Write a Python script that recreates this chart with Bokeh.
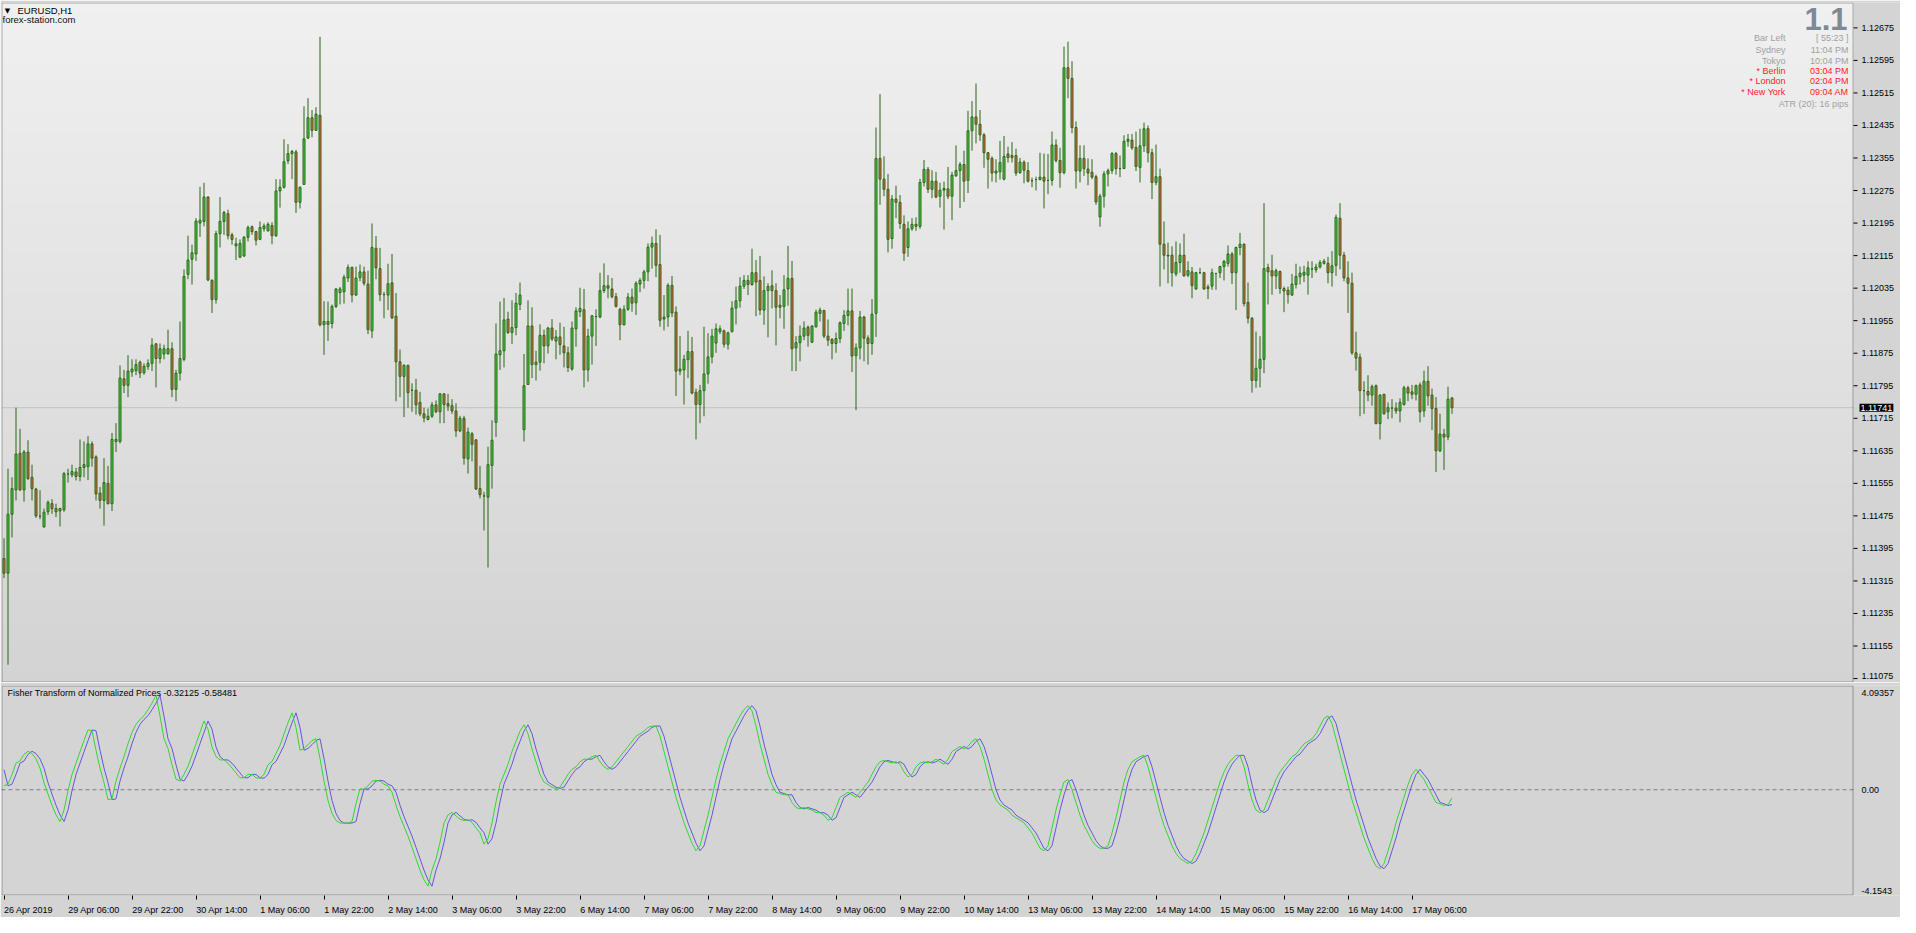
from bokeh.plotting import figure
from bokeh.layouts import column
from bokeh.models import Range1d, FixedTicker, Label, BoxAnnotation, ColumnDataSource
from bokeh.core.properties import value
from bokeh.embed import file_html
from bokeh.resources import INLINE

# ---------------- data (EURUSD H1, bar 0 = 26 Apr 2019 14:00) ----------------
open_ = [
1.11370,1.11334,1.11479,1.11539,1.11629,1.11539,1.11632,1.11570,1.11541,1.11474,
1.11448,1.11485,1.11505,1.11493,1.11487,1.11490,1.11578,1.11576,1.11583,1.11572,
1.11594,1.11596,1.11652,1.11620,1.11531,1.11513,1.11555,1.11505,1.11658,1.11658,
1.11812,1.11796,1.11829,1.11832,1.11853,1.11827,1.11842,1.11850,1.11898,1.11862,
1.11873,1.11874,1.11886,1.11786,1.11826,1.11860,1.12069,1.12106,1.12119,1.12195,
1.12199,1.12259,1.12054,1.12007,1.12169,1.12199,1.12218,1.12166,1.12139,1.12111,
1.12114,1.12160,1.12186,1.12174,1.12155,1.12181,1.12176,1.12189,1.12164,1.12274,
1.12283,1.12348,1.12366,1.12370,1.12246,1.12290,1.12404,1.12454,1.12423,1.12460,
1.11945,1.11946,1.11948,1.11990,1.12024,1.12026,1.12060,1.12086,1.12018,1.12061,
1.12075,1.12045,1.11930,1.12133,1.12083,1.12019,1.12018,1.12048,1.11966,1.11854,
1.11818,1.11845,1.11784,1.11784,1.11754,1.11726,1.11712,1.11720,1.11748,1.11731,
1.11775,1.11751,1.11746,1.11733,1.11684,1.11715,1.11615,1.11677,1.11662,1.11542,
1.11524,1.11521,1.11599,1.11705,1.11871,1.11881,1.11959,1.11926,1.11938,1.11995,
1.11687,1.11798,1.11942,1.11847,1.11853,1.11919,1.11893,1.11937,1.11905,1.11915,
1.11893,1.11876,1.11836,1.11935,1.11977,1.11982,1.11834,1.11917,1.11965,1.11964,
1.12029,1.12041,1.12033,1.12014,1.11983,1.11945,1.11983,1.12013,1.11999,1.12045,
1.12054,1.12075,1.12136,1.12145,1.12093,1.11959,1.11964,1.12042,1.11976,1.11831,
1.11834,1.11859,1.11879,1.11779,1.11749,1.11783,1.11824,1.11866,1.11900,1.11928,
1.11930,1.11897,1.11928,1.11986,1.12004,1.12040,1.12054,1.12044,1.12073,1.12054,
1.11981,1.12029,1.12041,1.12029,1.11993,1.11990,1.12033,1.12059,1.11888,1.11901,
1.11917,1.11939,1.11902,1.11940,1.11973,1.11980,1.11917,1.11909,1.11899,1.11911,
1.11948,1.11968,1.11979,1.11869,1.11888,1.11964,1.11912,1.11899,1.11973,1.12354,
1.12303,1.12278,1.12157,1.12254,1.12246,1.12192,1.12135,1.12181,1.12192,1.12187,
1.12295,1.12327,1.12278,1.12298,1.12261,1.12276,1.12279,1.12261,1.12311,1.12324,
1.12339,1.12300,1.12422,1.12456,1.12438,1.12412,1.12368,1.12354,1.12318,1.12321,
1.12303,1.12365,1.12361,1.12361,1.12319,1.12345,1.12324,1.12299,1.12302,1.12302,
1.12308,1.12300,1.12300,1.12387,1.12349,1.12319,1.12577,1.12551,1.12430,1.12323,
1.12354,1.12328,1.12320,1.12309,1.12210,1.12261,1.12316,1.12324,1.12366,1.12329,
1.12329,1.12396,1.12399,1.12381,1.12332,1.12385,1.12427,1.12368,1.12295,1.12309,
1.12143,1.12116,1.12116,1.12070,1.12098,1.12116,1.12067,1.12075,1.12033,1.12073,
1.12073,1.12034,1.12040,1.12071,1.12073,1.12088,1.12096,1.12119,1.12073,1.12135,
1.12143,1.12000,1.11961,1.11808,1.11838,1.11860,1.12086,1.12078,1.12065,1.12076,
1.12034,1.12030,1.12018,1.12044,1.12063,1.12067,1.12067,1.12082,1.12080,1.12087,
1.12096,1.12096,1.12073,1.12091,1.12207,1.12116,1.12060,1.12047,1.11876,1.11865,
1.11783,1.11781,1.11772,1.11795,1.11702,1.11774,1.11731,1.11740,1.11740,1.11733,
1.11749,1.11790,1.11780,1.11774,1.11797,1.11733,1.11806,1.11772,1.11739,1.11635,
1.11676,1.11669,1.11765]

high = [
1.11420,1.11591,1.11570,1.11741,1.11689,1.11637,1.11661,1.11601,1.11544,1.11538,
1.11493,1.11513,1.11516,1.11505,1.11495,1.11583,1.11591,1.11601,1.11593,1.11663,
1.11658,1.11671,1.11658,1.11624,1.11546,1.11617,1.11598,1.11679,1.11703,1.11845,
1.11834,1.11870,1.11860,1.11860,1.11857,1.11850,1.11860,1.11912,1.11900,1.11899,
1.11896,1.11933,1.11902,1.11834,1.11953,1.12081,1.12164,1.12142,1.12207,1.12284,
1.12294,1.12261,1.12057,1.12176,1.12259,1.12225,1.12228,1.12171,1.12159,1.12155,
1.12163,1.12189,1.12189,1.12176,1.12199,1.12194,1.12197,1.12197,1.12303,1.12303,
1.12401,1.12389,1.12375,1.12375,1.12285,1.12482,1.12502,1.12473,1.12480,1.12653,
1.12003,1.12002,1.11995,1.12035,1.12038,1.12068,1.12093,1.12088,1.12088,1.12093,
1.12088,1.12078,1.12194,1.12163,1.12134,1.12026,1.12095,1.12119,1.12023,1.11884,
1.11848,1.11847,1.11801,1.11812,1.11780,1.11741,1.11739,1.11755,1.11759,1.11777,
1.11777,1.11775,1.11762,1.11752,1.11721,1.11721,1.11692,1.11681,1.11663,1.11598,
1.11534,1.11645,1.11710,1.11948,1.12002,1.12011,1.11977,1.12005,1.12023,1.12049,
1.11873,1.12005,1.11988,1.11881,1.11946,1.11933,1.11940,1.11959,1.11932,1.11950,
1.11940,1.11891,1.11953,1.11988,1.12036,1.12033,1.11935,1.11969,1.11983,1.12073,
1.12096,1.12067,1.12060,1.12023,1.11987,1.11993,1.12023,1.12034,1.12052,1.12060,
1.12080,1.12145,1.12162,1.12180,1.12166,1.12018,1.12047,1.12065,1.11990,1.11917,
1.11871,1.11930,1.11915,1.11788,1.11797,1.11940,1.11924,1.11935,1.11948,1.11943,
1.11933,1.11928,1.12003,1.12039,1.12062,1.12067,1.12067,1.12132,1.12104,1.12114,
1.12064,1.12047,1.12079,1.12047,1.12018,1.12067,1.12139,1.12102,1.11917,1.11943,
1.11953,1.11943,1.11943,1.11982,1.11987,1.11982,1.11958,1.11912,1.11926,1.11953,
1.11981,1.12034,1.12034,1.11899,1.11979,1.11967,1.11919,1.12008,1.12430,1.12512,
1.12359,1.12316,1.12264,1.12287,1.12264,1.12214,1.12199,1.12207,1.12209,1.12304,
1.12350,1.12333,1.12325,1.12321,1.12294,1.12297,1.12333,1.12321,1.12386,1.12345,
1.12373,1.12471,1.12495,1.12538,1.12473,1.12416,1.12370,1.12359,1.12352,1.12397,
1.12409,1.12383,1.12394,1.12378,1.12355,1.12349,1.12345,1.12307,1.12309,1.12368,
1.12366,1.12365,1.12420,1.12401,1.12380,1.12629,1.12641,1.12593,1.12445,1.12386,
1.12386,1.12354,1.12352,1.12314,1.12267,1.12323,1.12329,1.12370,1.12370,1.12361,
1.12411,1.12414,1.12414,1.12420,1.12427,1.12442,1.12435,1.12378,1.12388,1.12329,
1.12199,1.12147,1.12138,1.12150,1.12145,1.12169,1.12101,1.12087,1.12075,1.12085,
1.12075,1.12044,1.12083,1.12073,1.12090,1.12104,1.12140,1.12124,1.12137,1.12171,
1.12145,1.12049,1.11964,1.11928,1.11917,1.12244,1.12095,1.12117,1.12083,1.12078,
1.12039,1.12039,1.12070,1.12095,1.12088,1.12090,1.12101,1.12101,1.12095,1.12104,
1.12107,1.12112,1.12126,1.12216,1.12244,1.12124,1.12101,1.12073,1.11928,1.11874,
1.11806,1.11821,1.11798,1.11798,1.11774,1.11775,1.11754,1.11762,1.11754,1.11764,
1.11795,1.11795,1.11797,1.11798,1.11803,1.11832,1.11843,1.11788,1.11767,1.11726,
1.11689,1.11793,1.11767]

low = [
1.11322,1.11109,1.11422,1.11513,1.11536,1.11510,1.11563,1.11513,1.11470,1.11467,
1.11446,1.11477,1.11480,1.11472,1.11449,1.11485,1.11557,1.11570,1.11562,1.11560,
1.11570,1.11563,1.11596,1.11513,1.11493,1.11451,1.11503,1.11487,1.11632,1.11653,
1.11777,1.11767,1.11817,1.11821,1.11814,1.11822,1.11834,1.11831,1.11791,1.11850,
1.11860,1.11871,1.11767,1.11757,1.11808,1.11855,1.12057,1.12044,1.12102,1.12161,
1.12187,1.12052,1.11974,1.11997,1.12135,1.12166,1.12155,1.12142,1.12104,1.12109,
1.12112,1.12150,1.12166,1.12140,1.12153,1.12174,1.12174,1.12143,1.12161,1.12233,
1.12280,1.12340,1.12303,1.12220,1.12231,1.12290,1.12402,1.12406,1.12423,1.11941,
1.11871,1.11905,1.11936,1.11986,1.11995,1.11997,1.12050,1.12000,1.12016,1.12052,
1.12041,1.11922,1.11912,1.12057,1.12003,1.11961,1.11981,1.11959,1.11757,1.11767,
1.11718,1.11741,1.11731,1.11724,1.11720,1.11705,1.11710,1.11716,1.11728,1.11703,
1.11703,1.11733,1.11726,1.11669,1.11681,1.11601,1.11579,1.11609,1.11539,1.11518,
1.11439,1.11348,1.11542,1.11669,1.11834,1.11840,1.11922,1.11898,1.11919,1.11981,
1.11658,1.11798,1.11814,1.11808,1.11832,1.11850,1.11874,1.11905,1.11860,1.11871,
1.11840,1.11829,1.11832,1.11891,1.11964,1.11791,1.11805,1.11847,1.11893,1.11961,
1.12023,1.12010,1.12010,1.11987,1.11907,1.11943,1.11979,1.11977,1.11969,1.12025,
1.12034,1.12052,1.12083,1.12062,1.11940,1.11931,1.11940,1.11964,1.11770,1.11821,
1.11749,1.11814,1.11774,1.11663,1.11703,1.11720,1.11800,1.11850,1.11876,1.11922,
1.11889,1.11884,1.11926,1.11946,1.11987,1.12033,1.12018,1.12041,1.11966,1.11969,
1.11945,1.11914,1.11985,1.11894,1.11961,1.11935,1.11992,1.11831,1.11831,1.11855,
1.11907,1.11891,1.11900,1.11938,1.11953,1.11912,1.11893,1.11860,1.11876,1.11900,
1.11930,1.11943,1.11829,1.11735,1.11860,1.11855,1.11847,1.11871,1.11915,1.12240,
1.12261,1.12123,1.12132,1.12207,1.12181,1.12102,1.12112,1.12176,1.12176,1.12181,
1.12285,1.12269,1.12256,1.12256,1.12233,1.12179,1.12254,1.12202,1.12309,1.12232,
1.12247,1.12269,1.12373,1.12391,1.12397,1.12331,1.12280,1.12297,1.12295,1.12302,
1.12300,1.12344,1.12344,1.12311,1.12316,1.12293,1.12295,1.12283,1.12275,1.12300,
1.12231,1.12266,1.12287,1.12344,1.12282,1.12315,1.12502,1.12416,1.12280,1.12295,
1.12311,1.12288,1.12303,1.12240,1.12186,1.12233,1.12285,1.12316,1.12314,1.12308,
1.12329,1.12383,1.12375,1.12323,1.12295,1.12370,1.12344,1.12254,1.12288,1.12039,
1.12081,1.12047,1.12039,1.12064,1.12073,1.12064,1.12062,1.12010,1.12031,1.12070,
1.12031,1.12008,1.12031,1.12031,1.12060,1.12054,1.12088,1.12045,1.11981,1.12116,
1.11990,1.11948,1.11778,1.11790,1.11791,1.11826,1.11995,1.12019,1.12033,1.12021,
1.11976,1.11997,1.12016,1.12034,1.12044,1.12050,1.12019,1.12060,1.12073,1.12083,
1.12093,1.12047,1.12039,1.12065,1.12081,1.12052,1.11974,1.11871,1.11832,1.11720,
1.11726,1.11757,1.11746,1.11700,1.11663,1.11724,1.11713,1.11715,1.11726,1.11705,
1.11746,1.11757,1.11762,1.11759,1.11705,1.11718,1.11746,1.11686,1.11583,1.11632,
1.11588,1.11661,1.11726]

close = [
1.11334,1.11479,1.11542,1.11627,1.11539,1.11632,1.11567,1.11542,1.11475,1.11474,
1.11484,1.11508,1.11493,1.11485,1.11493,1.11579,1.11578,1.11584,1.11572,1.11594,
1.11601,1.11652,1.11617,1.11529,1.11513,1.11557,1.11505,1.11663,1.11663,1.11814,
1.11796,1.11831,1.11836,1.11847,1.11826,1.11843,1.11850,1.11895,1.11862,1.11886,
1.11886,1.11886,1.11786,1.11826,1.11862,1.12064,1.12104,1.12122,1.12200,1.12202,
1.12259,1.12055,1.12007,1.12169,1.12199,1.12221,1.12164,1.12155,1.12144,1.12145,
1.12160,1.12184,1.12174,1.12153,1.12184,1.12188,1.12192,1.12164,1.12274,1.12283,
1.12346,1.12366,1.12371,1.12246,1.12283,1.12402,1.12454,1.12423,1.12463,1.11945,
1.11953,1.11953,1.11990,1.12033,1.12033,1.12062,1.12086,1.12018,1.12060,1.12075,
1.12047,1.11933,1.12135,1.12085,1.12019,1.12019,1.12046,1.11962,1.11854,1.11818,
1.11845,1.11778,1.11784,1.11748,1.11726,1.11716,1.11720,1.11748,1.11731,1.11775,
1.11749,1.11745,1.11733,1.11684,1.11715,1.11617,1.11681,1.11651,1.11541,1.11527,
1.11524,1.11601,1.11661,1.11873,1.11881,1.11957,1.11926,1.11938,1.11998,1.12018,
1.11795,1.11942,1.11847,1.11853,1.11919,1.11893,1.11937,1.11910,1.11915,1.11896,
1.11876,1.11840,1.11937,1.11979,1.11985,1.11834,1.11917,1.11967,1.11965,1.12029,
1.12041,1.12035,1.12014,1.11990,1.11945,1.11983,1.12013,1.11998,1.12047,1.12054,
1.12075,1.12136,1.12145,1.12091,1.11956,1.11964,1.12042,1.11974,1.11831,1.11836,
1.11860,1.11879,1.11777,1.11749,1.11783,1.11824,1.11866,1.11917,1.11935,1.11935,
1.11897,1.11925,1.11986,1.12004,1.12040,1.12054,1.12044,1.12073,1.12050,1.11981,
1.12029,1.12039,1.12029,1.11988,1.11988,1.12031,1.12059,1.11886,1.11901,1.11917,
1.11937,1.11919,1.11942,1.11976,1.11981,1.11917,1.11907,1.11899,1.11911,1.11950,
1.11968,1.11979,1.11868,1.11888,1.11964,1.11912,1.11899,1.11971,1.12354,1.12303,
1.12278,1.12155,1.12254,1.12246,1.12194,1.12121,1.12181,1.12192,1.12187,1.12295,
1.12327,1.12278,1.12298,1.12259,1.12276,1.12280,1.12261,1.12313,1.12324,1.12339,
1.12298,1.12422,1.12456,1.12438,1.12412,1.12368,1.12352,1.12318,1.12323,1.12344,
1.12359,1.12356,1.12356,1.12318,1.12345,1.12325,1.12298,1.12299,1.12302,1.12308,
1.12298,1.12300,1.12387,1.12349,1.12319,1.12577,1.12551,1.12430,1.12323,1.12354,
1.12329,1.12318,1.12308,1.12247,1.12261,1.12316,1.12324,1.12366,1.12329,1.12329,
1.12396,1.12401,1.12380,1.12334,1.12385,1.12427,1.12368,1.12295,1.12309,1.12143,
1.12116,1.12114,1.12073,1.12098,1.12116,1.12065,1.12078,1.12041,1.12073,1.12073,
1.12033,1.12038,1.12073,1.12071,1.12088,1.12101,1.12119,1.12073,1.12135,1.12143,
1.11997,1.11961,1.11808,1.11838,1.11860,1.12083,1.12075,1.12065,1.12078,1.12034,
1.12028,1.12019,1.12045,1.12064,1.12072,1.12074,1.12085,1.12082,1.12087,1.12098,
1.12101,1.12073,1.12090,1.12209,1.12116,1.12060,1.12047,1.11876,1.11863,1.11783,
1.11783,1.11772,1.11793,1.11702,1.11772,1.11726,1.11741,1.11740,1.11733,1.11754,
1.11790,1.11777,1.11774,1.11795,1.11731,1.11806,1.11770,1.11739,1.11635,1.11676,
1.11669,1.11762,1.11741]

fisher = [
0.15,0.22,0.60,1.04,1.13,1.39,1.51,1.42,1.21,0.85,
0.28,-0.17,-0.61,-0.99,-1.25,-0.80,-0.04,0.60,1.04,1.49,
1.93,2.35,2.32,1.55,0.85,0.28,-0.39,-0.36,0.34,0.85,
1.30,1.81,2.25,2.57,2.76,2.91,3.14,3.40,3.71,2.89,
2.00,1.62,0.98,0.41,0.34,0.60,0.92,1.36,1.81,2.25,
2.70,2.38,1.68,1.30,1.17,1.17,1.04,0.85,0.66,0.47,
0.47,0.60,0.60,0.47,0.45,0.60,0.98,1.11,1.42,1.74,
2.19,2.63,3.02,2.44,1.55,1.62,1.77,1.93,2.00,1.23,
0.34,-0.42,-0.93,-1.21,-1.31,-1.31,-1.31,-1.25,-0.55,0.03,
0.03,0.15,0.34,0.37,0.34,0.22,0.15,-0.10,-0.61,-1.06,
-1.44,-1.82,-2.26,-2.71,-3.16,-3.54,-3.79,-3.16,-2.71,-2.07,
-1.31,-0.99,-0.89,-1.03,-1.16,-1.21,-1.18,-1.28,-1.50,-1.69,
-2.14,-1.92,-1.31,-0.48,0.22,0.60,1.00,1.50,1.90,2.30,
2.55,2.20,1.60,1.10,0.60,0.30,0.20,0.10,0.05,0.10,
0.35,0.60,0.80,0.90,1.10,1.20,1.20,1.30,1.35,1.10,
0.90,0.80,0.90,1.10,1.30,1.50,1.70,1.90,2.10,2.20,
2.30,2.45,2.50,2.50,2.10,1.50,0.90,0.30,-0.30,-0.80,
-1.30,-1.70,-2.10,-2.40,-2.20,-1.60,-1.00,-0.30,0.40,1.00,
1.50,2.00,2.30,2.60,2.90,3.15,3.30,3.10,2.50,1.80,
1.20,0.60,0.20,-0.10,-0.15,-0.20,-0.20,-0.50,-0.70,-0.75,
-0.70,-0.75,-0.80,-0.90,-0.90,-1.00,-1.20,-1.10,-0.70,-0.30,
-0.20,-0.10,-0.20,-0.30,-0.10,0.10,0.30,0.60,0.90,1.10,
1.15,1.10,1.05,1.10,1.00,0.70,0.50,0.60,0.90,1.05,
1.10,1.05,1.10,1.20,1.10,1.00,1.20,1.50,1.60,1.70,
1.60,1.70,1.90,2.00,1.70,1.20,0.60,0.00,-0.40,-0.60,
-0.70,-0.80,-1.00,-1.10,-1.20,-1.30,-1.50,-1.70,-2.00,-2.30,
-2.40,-2.20,-1.50,-0.80,-0.20,0.30,0.40,0.00,-0.50,-1.00,
-1.40,-1.70,-2.00,-2.20,-2.30,-2.30,-2.20,-1.70,-1.10,-0.40,
0.30,0.80,1.10,1.20,1.30,1.35,0.90,0.30,-0.30,-0.90,
-1.40,-1.80,-2.20,-2.50,-2.70,-2.80,-2.90,-2.80,-2.50,-2.10,
-1.70,-1.20,-0.70,-0.20,0.30,0.70,1.00,1.20,1.35,1.35,
0.90,0.20,-0.40,-0.80,-0.90,-0.80,-0.40,0.00,0.40,0.70,
0.90,1.10,1.30,1.40,1.60,1.80,1.90,2.00,2.20,2.50,
2.80,2.90,2.60,2.00,1.40,0.80,0.20,-0.40,-0.90,-1.40,
-1.90,-2.30,-2.70,-3.00,-3.10,-2.90,-2.40,-1.90,-1.30,-0.80,
-0.30,0.20,0.60,0.80,0.60,0.40,0.10,-0.20,-0.50,-0.55,
-0.62,-0.58481,-0.32125]
fisher_before_first = 0.79
# signal line of this indicator = the fisher value of the previous bar
signal = [fisher_before_first] + fisher[:-1]

time_ticks = [0, 16, 32, 48, 64, 80, 96, 112, 128, 144, 160, 176, 192, 208, 224,
              240, 256, 272, 288, 304, 320, 336, 352]
time_labels = ["26 Apr 2019", "29 Apr 06:00", "29 Apr 22:00", "30 Apr 14:00", "1 May 06:00",
               "1 May 22:00", "2 May 14:00", "3 May 06:00", "3 May 22:00", "6 May 14:00",
               "7 May 06:00", "7 May 22:00", "8 May 14:00", "9 May 06:00", "9 May 22:00",
               "10 May 14:00", "13 May 06:00", "13 May 22:00", "14 May 14:00", "15 May 06:00",
               "15 May 22:00", "16 May 14:00", "17 May 06:00"]
price_ticks = [1.12675, 1.12595, 1.12515, 1.12435, 1.12355, 1.12275, 1.12195, 1.12115,
               1.12035, 1.11955, 1.11875, 1.11795, 1.11715, 1.11635, 1.11555, 1.11475,
               1.11395, 1.11315, 1.11235, 1.11155, 1.11075]
ind_tick_labels = ["4.09357", "0.00", "-4.1543"]

info_names = ["Bar Left", "Sydney", "Tokyo", "* Berlin", "* London", "* New York"]
info_values = ["[ 55:23 ]", "11:04 PM", "10:04 PM", "03:04 PM", "02:04 PM", "09:04 AM"]
info_alert = [False, False, False, True, True, True]

# ---------------- layout constants ----------------
FONT = "Liberation Sans"
FS = "9px"
FRAME_W = 1852          # chart area (left of the price scale)
AXIS_W = 47             # price-scale strip on the right
PH = 680
IH = 210
X0 = -0.625
X1 = X0 + FRAME_W / 4.0
XE = X0 + (FRAME_W + AXIS_W) / 4.0
YMIN, YMAX = 1.110653, 1.127374
IMIN, IMAX = -4.1543, 4.09357
OUT = "#2A6516"
BULL = "#42D042"
BEAR = "#E8643E"
GREY_TXT = "#A0A0A0"
RED_TXT = "#FF2020"
PANEL = "#D4D4D4"
PX = 0.25               # one pixel in bar units


def xl(d):
    return X0 + d / 4.0


def xr(d):
    return X1 - d / 4.0


def yp(ref_y):
    return YMAX - (ref_y - 2.0) / 690.0 * (YMAX - YMIN)


def yi(ref_y):
    return IMAX - (ref_y - 695.0) / 216.0 * (IMAX - IMIN)


def base(fig):
    fig.grid.visible = False
    fig.outline_line_color = None
    fig.border_fill_color = PANEL
    fig.background_fill_color = PANEL
    fig.toolbar.logo = None


def frame_box(fig, ymin, ymax, h):
    d = 0.5 * (ymax - ymin) / h
    fig.add_layout(BoxAnnotation(left=X0 + 0.5 * PX, right=X1 - 0.5 * PX, top=ymax - d,
                                 bottom=ymin + d, fill_color=None, line_color="black",
                                 line_width=1, level="overlay"))


x_range = Range1d(X0, XE)

# ---------------- price panel ----------------
p = figure(frame_width=FRAME_W + AXIS_W, frame_height=PH, x_range=x_range,
           y_range=Range1d(YMIN, YMAX), output_backend="svg", toolbar_location=None,
           x_axis_location=None, y_axis_location=None,
           min_border_left=1, min_border_top=2, min_border_bottom=0, min_border_right=0)
base(p)

nb = 68
for i in range(nb):
    top = YMAX - i / nb * (YMAX - YMIN)
    bot = YMAX - (i + 1.05) / nb * (YMAX - YMIN)
    g = int(round(240 - 29 * (i + 0.5) / nb))
    p.add_layout(BoxAnnotation(right=X1, top=top, bottom=max(bot, YMIN),
                               fill_color="#%02x%02x%02x" % (g, g, g), fill_alpha=1.0,
                               line_color=None, level="underlay"))

# current bid line
p.segment(x0=[X0], x1=[X1], y0=[close[-1]], y1=[close[-1]], line_color="#C0C0C0", line_width=1)

idx = list(range(len(close)))
src = ColumnDataSource(dict(
    x=idx, o=open_, h=high, l=low, c=close,
    top=[max(a, b) for a, b in zip(open_, close)],
    bot=[min(a, b) for a, b in zip(open_, close)],
    fill=[BULL if c >= o else BEAR for o, c in zip(open_, close)],
))
p.segment(x0="x", y0="l", x1="x", y1="h", source=src, line_color=OUT, line_width=1)
p.vbar(x="x", top="top", bottom="bot", width=0.5, source=src, fill_color="fill",
       line_color=OUT, line_width=1)

frame_box(p, YMIN, YMAX, PH)

# price scale (right strip)
p.segment(x0=[X1] * len(price_ticks), x1=[X1 + 1.0] * len(price_ticks),
          y0=price_ticks, y1=price_ticks, line_color="black", line_width=1)
p.text(x=[X1 + 2.0] * len(price_ticks), y=price_ticks,
       text=["%.5f" % t for t in price_ticks], text_font=value(FONT), text_font_size=FS,
       text_color="black", text_align="left", text_baseline="middle",
       y_offset=[0] * (len(price_ticks) - 1) + [-3])

# current price marker
p.add_layout(Label(x=X1 + 1.5, y=close[-1], text="%.5f" % close[-1], text_font=FONT,
                   text_font_size=FS, text_color="white", text_align="left",
                   text_baseline="middle", background_fill_color="black", padding=1))

# top-left texts
p.add_layout(Label(x=xl(6), y=yp(10.5), text="\u25bc", text_font="DejaVu Sans",
                   text_font_size="7px", text_color="black", text_align="center",
                   text_baseline="middle"))
p.add_layout(Label(x=xl(16), y=yp(10.5), text="EURUSD,H1", text_font=FONT,
                   text_font_size="9.5px", text_color="black", text_baseline="middle"))
p.add_layout(Label(x=xl(1), y=yp(19.5), text="forex-station.com", text_font=FONT,
                   text_font_size="9.5px", text_color="#101010", text_baseline="middle"))

# top-right info block
p.add_layout(Label(x=xr(6), y=yp(19), text="1.1", text_font=FONT, text_font_size="31px",
                   text_font_style="bold", text_color="#7E8995", text_align="right",
                   text_baseline="middle"))
row_y = [38, 50, 61, 72, 82, 93]
for name, val, alert, ry in zip(info_names, info_values, info_alert, row_y):
    col = RED_TXT if alert else GREY_TXT
    p.add_layout(Label(x=xr(68), y=yp(ry), text=name, text_font=FONT, text_font_size=FS,
                       text_color=col, text_align="right", text_baseline="middle"))
    p.add_layout(Label(x=xr(5), y=yp(ry), text=val, text_font=FONT, text_font_size=FS,
                       text_color=col, text_align="right", text_baseline="middle"))
p.add_layout(Label(x=xr(5), y=yp(105), text="ATR (20): 16 pips", text_font=FONT,
                   text_font_size=FS, text_color=GREY_TXT, text_align="right",
                   text_baseline="middle"))

# ---------------- indicator panel ----------------
q = figure(frame_width=FRAME_W + AXIS_W, frame_height=IH, x_range=x_range,
           y_range=Range1d(IMIN, IMAX), output_backend="svg", toolbar_location=None,
           y_axis_location=None, min_border_left=1, min_border_top=3,
           min_border_bottom=22, min_border_right=0)
base(q)

q.segment(x0=[X0], x1=[X1], y0=[0.0], y1=[0.0], line_color="#808080", line_width=1,
          line_dash="4 3")
q.line(idx, signal, line_color="#6655DD", line_width=1)
q.line(idx, fisher, line_color="#30D830", line_width=1)
frame_box(q, IMIN, IMAX, IH)

q.add_layout(Label(x=xl(6), y=yi(703), text="Fisher Transform of Normalized Prices %.5f %.5f"
                   % (fisher[-1], fisher[-2]), text_font=FONT, text_font_size=FS,
                   text_color="black", text_baseline="middle"))

q.text(x=[X1 + 2.0] * 3, y=[yi(703), yi(802), yi(906)], text=ind_tick_labels,
       text_font=value(FONT), text_font_size=FS, text_color="black",
       text_align="left", text_baseline="middle")

# time axis: tick marks at the bars (minor ticks), labels starting at each tick
CW = {' ': 0.278, ':': 0.278, 'A': 0.667, 'p': 0.556, 'r': 0.333, 'M': 0.833,
      'a': 0.556, 'y': 0.5}


def label_w(s):
    return sum(CW.get(ch, 0.556) for ch in s) * 9.0


centers = [k + round(label_w(t) / 2.0 / 4.0 * 8) / 8.0 for k, t in zip(time_ticks, time_labels)]
xa = q.xaxis[0]
xa.ticker = FixedTicker(ticks=centers, minor_ticks=time_ticks)
xa.major_label_overrides = {c: t for c, t in zip(centers, time_labels)}
xa.axis_line_color = None
xa.major_tick_line_color = None
xa.major_tick_out = 0
xa.major_tick_in = 0
xa.minor_tick_line_color = "black"
xa.minor_tick_out = 4
xa.minor_tick_in = 0
xa.major_label_standoff = 5
xa.major_label_text_font = FONT
xa.major_label_text_font_size = FS
xa.major_label_text_color = "black"

layout = column(p, q, spacing=0)
open("out.html", "w").write(file_html(layout, INLINE))
